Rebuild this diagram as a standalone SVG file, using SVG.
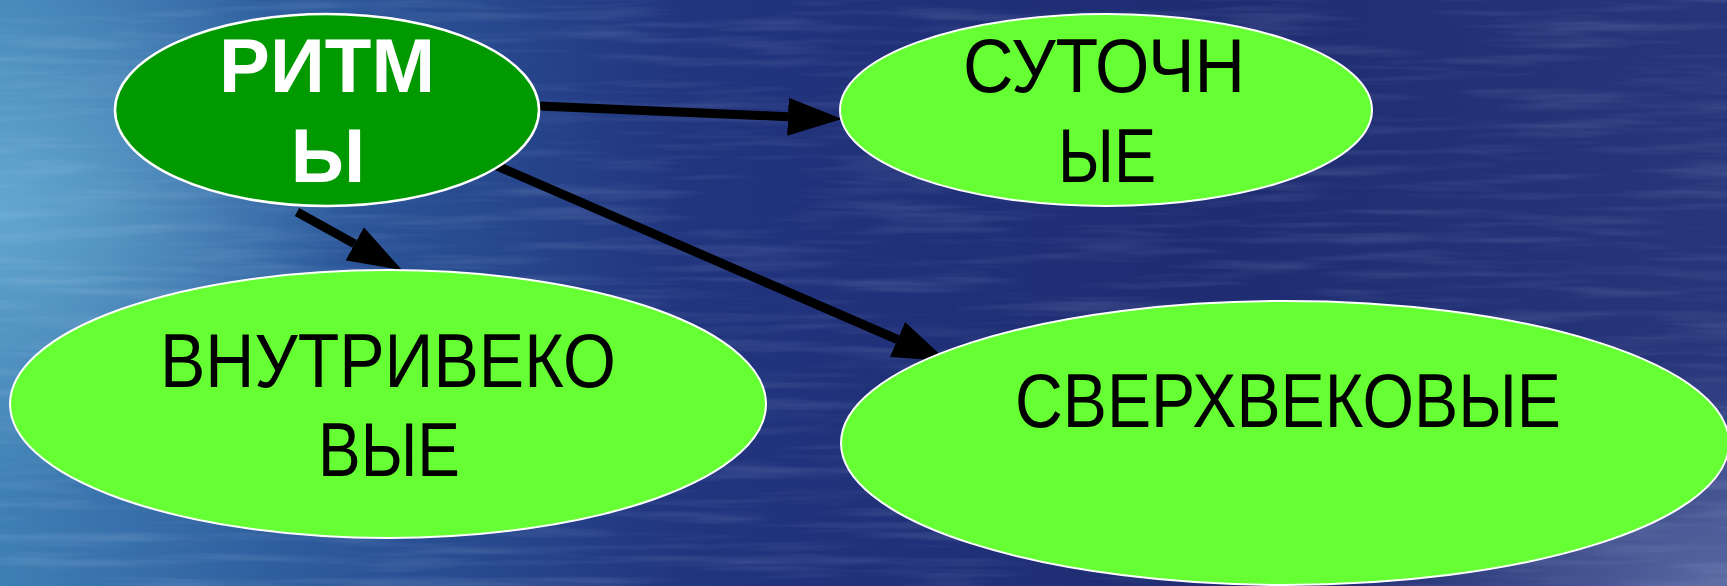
<svg xmlns="http://www.w3.org/2000/svg" width="1727" height="586" viewBox="0 0 1727 586">
<style>
.lbl{font-family:"Liberation Sans",Arial,sans-serif;font-size:76px;fill:#000;text-anchor:middle}
.bold{font-weight:bold;fill:#fff}
.light{fill:#66ff33;stroke:#fff;stroke-width:2}
.dark{fill:#009900;stroke:#fff;stroke-width:2.5}
.conn{stroke:#000;stroke-width:9;fill:none}
</style>
<defs>
<linearGradient id="bg" x1="0" y1="0" x2="1" y2="0">
<stop offset="0" stop-color="#3f7fb4"/>
<stop offset="0.18" stop-color="#2d5a9c"/>
<stop offset="0.4" stop-color="#21347e"/>
<stop offset="0.7" stop-color="#1f2c72"/>
<stop offset="1" stop-color="#27357a"/>
</linearGradient>
<radialGradient id="glowL" cx="0" cy="0.35" r="0.5">
<stop offset="0" stop-color="#6fb4d8" stop-opacity="0.75"/>
<stop offset="1" stop-color="#6fb4d8" stop-opacity="0"/>
</radialGradient>
<radialGradient id="glowR" cx="1" cy="1" r="0.6">
<stop offset="0" stop-color="#8a9cc8" stop-opacity="0.5"/>
<stop offset="1" stop-color="#8a9cc8" stop-opacity="0"/>
</radialGradient>
<filter id="water" x="0" y="0" width="100%" height="100%">
<feTurbulence type="fractalNoise" baseFrequency="0.006 0.09" numOctaves="3" seed="4"/>
<feColorMatrix type="matrix" values="0 0 0 0 0.75  0 0 0 0 0.85  0 0 0 0 1  0 0 0 1.2 -0.55"/>
</filter>
<marker id="ah" markerUnits="userSpaceOnUse" markerWidth="54" markerHeight="38" viewBox="0 -19 54 38" refX="0" refY="0" orient="auto">
<path d="M0,-19 L54,0 L0,19 z" fill="#000"/>
</marker>
</defs>
<g id="background">
<rect width="1727" height="586" fill="url(#bg)"/>
<rect width="700" height="586" fill="url(#glowL)"/>
<rect x="1100" y="200" width="627" height="386" fill="url(#glowR)"/>
<rect width="1727" height="586" filter="url(#water)" opacity="0.25"/>
</g>
<g id="connectors">
<line class="conn" x1="540" y1="106" x2="788" y2="116.7" marker-end="url(#ah)"/>
<line class="conn" x1="297" y1="212" x2="354.7" y2="243.9" marker-end="url(#ah)"/>
<line class="conn" x1="495" y1="165" x2="897.5" y2="339.5" marker-end="url(#ah)"/>
</g>
<g id="node-ritmy">
<ellipse class="dark" cx="327" cy="110" rx="212" ry="96"/>
<text class="lbl bold" x="327" y="92" textLength="216" lengthAdjust="spacingAndGlyphs">РИТМ</text>
<text class="lbl bold" x="328" y="182">Ы</text>
</g>
<g id="node-sutochnye">
<ellipse class="light" cx="1106" cy="110" rx="266" ry="96"/>
<text class="lbl" x="1104" y="92" textLength="282" lengthAdjust="spacingAndGlyphs">СУТОЧН</text>
<text class="lbl" x="1107" y="182" textLength="98" lengthAdjust="spacingAndGlyphs">ЫЕ</text>
</g>
<g id="node-vnutrivekovye">
<ellipse class="light" cx="388" cy="404" rx="378" ry="134"/>
<text class="lbl" x="388" y="387" textLength="456" lengthAdjust="spacingAndGlyphs">ВНУТРИВЕКО</text>
<text class="lbl" x="389" y="476" textLength="142" lengthAdjust="spacingAndGlyphs">ВЫЕ</text>
</g>
<g id="node-sverkhvekovye">
<ellipse class="light" cx="1285" cy="443" rx="444" ry="142"/>
<text class="lbl" x="1288" y="427" textLength="546" lengthAdjust="spacingAndGlyphs">СВЕРХВЕКОВЫЕ</text>
</g>
</svg>
